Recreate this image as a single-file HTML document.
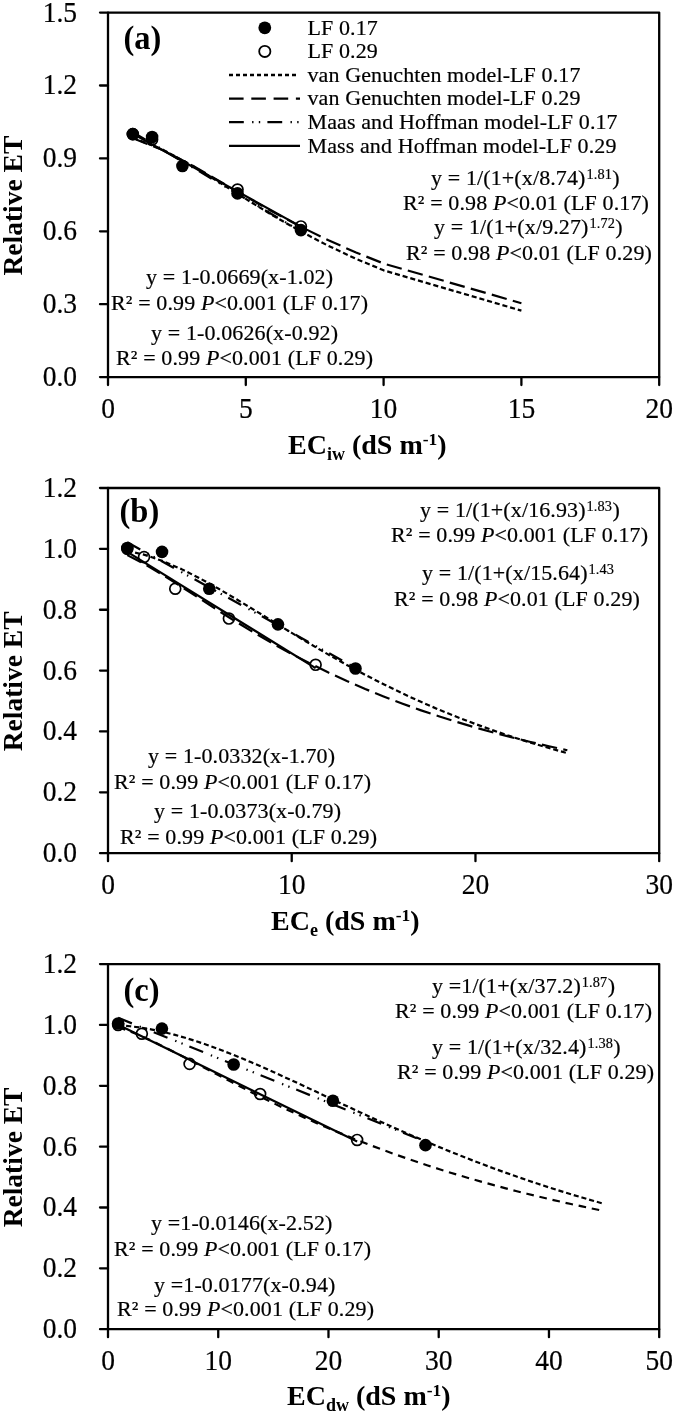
<!DOCTYPE html>
<html><head><meta charset="utf-8"><style>
html,body{margin:0;padding:0;background:#fff;}
body{width:675px;height:1414px;overflow:hidden;}
svg{display:block;will-change:transform;}
</style></head><body>
<svg width="675" height="1414" viewBox="0 0 675 1414">
<rect width="675" height="1414" fill="#fff"/>
<circle cx="132.80" cy="134.10" r="6.3" fill="#000"/>
<circle cx="152.10" cy="137.02" r="6.3" fill="#000"/>
<circle cx="182.41" cy="165.93" r="6.3" fill="#000"/>
<circle cx="237.53" cy="193.39" r="6.3" fill="#000"/>
<circle cx="300.92" cy="230.09" r="6.3" fill="#000"/>
<circle cx="132.80" cy="134.10" r="5.45" fill="none" stroke="#000" stroke-width="1.7"/>
<circle cx="152.10" cy="139.45" r="5.45" fill="none" stroke="#000" stroke-width="1.7"/>
<circle cx="237.53" cy="189.50" r="5.45" fill="none" stroke="#000" stroke-width="1.7"/>
<circle cx="300.92" cy="226.44" r="5.45" fill="none" stroke="#000" stroke-width="1.7"/>
<path d="M132.80,138.00 L135.56,138.81 L163.12,149.85 L190.68,164.75 L218.24,181.60 L245.80,198.94 L273.36,215.77 L300.92,231.51 L328.48,245.89 L356.04,258.82 L383.60,270.34 L521.40,310.67" fill="none" stroke="#000" stroke-width="2.2" stroke-linejoin="round" stroke-dasharray="5.1 2.9"/>
<path d="M132.80,138.42 L135.56,139.26 L163.12,150.32 L190.68,164.62 L218.24,180.43 L245.80,196.54 L273.36,212.15 L300.92,226.81 L328.48,240.29 L356.04,252.51 L383.60,263.51 L521.40,303.20" fill="none" stroke="#000" stroke-width="2.2" stroke-linejoin="round" stroke-dasharray="15.5 6.35"/>
<path d="M132.80,132.15 L300.92,231.32" fill="none" stroke="#000" stroke-width="2.2" stroke-linejoin="round" stroke-dasharray="14.8 8.3 1.4 5.3 1.4 7.2"/>
<path d="M132.80,133.80 L300.92,226.59" fill="none" stroke="#000" stroke-width="2.2" stroke-linejoin="round"/>
<path d="M108.0,12.6 H659.2 V377.1 H108.0 Z" fill="none" stroke="#000" stroke-width="2.3" stroke-linejoin="round"/>
<line x1="100.0" y1="377.10" x2="108.0" y2="377.10" stroke="#000" stroke-width="2.3" stroke-linecap="round"/>
<text transform="translate(77.00,386.00) scale(1,1.05)" text-anchor="end" font-size="27.5" font-family="Liberation Serif" stroke="#000" stroke-width="0.2">0.0</text>
<line x1="100.0" y1="304.20" x2="108.0" y2="304.20" stroke="#000" stroke-width="2.3" stroke-linecap="round"/>
<text transform="translate(77.00,313.10) scale(1,1.05)" text-anchor="end" font-size="27.5" font-family="Liberation Serif" stroke="#000" stroke-width="0.2">0.3</text>
<line x1="100.0" y1="231.30" x2="108.0" y2="231.30" stroke="#000" stroke-width="2.3" stroke-linecap="round"/>
<text transform="translate(77.00,240.20) scale(1,1.05)" text-anchor="end" font-size="27.5" font-family="Liberation Serif" stroke="#000" stroke-width="0.2">0.6</text>
<line x1="100.0" y1="158.40" x2="108.0" y2="158.40" stroke="#000" stroke-width="2.3" stroke-linecap="round"/>
<text transform="translate(77.00,167.30) scale(1,1.05)" text-anchor="end" font-size="27.5" font-family="Liberation Serif" stroke="#000" stroke-width="0.2">0.9</text>
<line x1="100.0" y1="85.50" x2="108.0" y2="85.50" stroke="#000" stroke-width="2.3" stroke-linecap="round"/>
<text transform="translate(77.00,94.40) scale(1,1.05)" text-anchor="end" font-size="27.5" font-family="Liberation Serif" stroke="#000" stroke-width="0.2">1.2</text>
<line x1="100.0" y1="12.60" x2="108.0" y2="12.60" stroke="#000" stroke-width="2.3" stroke-linecap="round"/>
<text transform="translate(77.00,21.50) scale(1,1.05)" text-anchor="end" font-size="27.5" font-family="Liberation Serif" stroke="#000" stroke-width="0.2">1.5</text>
<line x1="108.00" y1="377.1" x2="108.00" y2="385.1" stroke="#000" stroke-width="2.3" stroke-linecap="round"/>
<text transform="translate(108.00,418.10) scale(1,1.05)" text-anchor="middle" font-size="27.5" font-family="Liberation Serif" stroke="#000" stroke-width="0.2">0</text>
<line x1="245.80" y1="377.1" x2="245.80" y2="385.1" stroke="#000" stroke-width="2.3" stroke-linecap="round"/>
<text transform="translate(245.80,418.10) scale(1,1.05)" text-anchor="middle" font-size="27.5" font-family="Liberation Serif" stroke="#000" stroke-width="0.2">5</text>
<line x1="383.60" y1="377.1" x2="383.60" y2="385.1" stroke="#000" stroke-width="2.3" stroke-linecap="round"/>
<text transform="translate(383.60,418.10) scale(1,1.05)" text-anchor="middle" font-size="27.5" font-family="Liberation Serif" stroke="#000" stroke-width="0.2">10</text>
<line x1="521.40" y1="377.1" x2="521.40" y2="385.1" stroke="#000" stroke-width="2.3" stroke-linecap="round"/>
<text transform="translate(521.40,418.10) scale(1,1.05)" text-anchor="middle" font-size="27.5" font-family="Liberation Serif" stroke="#000" stroke-width="0.2">15</text>
<line x1="659.20" y1="377.1" x2="659.20" y2="385.1" stroke="#000" stroke-width="2.3" stroke-linecap="round"/>
<text transform="translate(659.20,418.10) scale(1,1.05)" text-anchor="middle" font-size="27.5" font-family="Liberation Serif" stroke="#000" stroke-width="0.2">20</text>
<text transform="translate(123.50,49.00) scale(1,1.06)" text-anchor="start" font-size="32.5" font-weight="bold" font-family="Liberation Serif">(a)</text>
<text x="431.00" y="184.70" text-anchor="start" font-size="22" font-family="Liberation Serif" letter-spacing="0.12" stroke="#000" stroke-width="0.2">y = 1/(1+(x/8.74)<tspan font-size="14.3" dx="0.9" dy="-6">1.81</tspan><tspan dx="0.3" dy="6">)</tspan></text>
<text x="403.00" y="210.30" text-anchor="start" font-size="22" font-family="Liberation Serif" letter-spacing="0.12" stroke="#000" stroke-width="0.2">R² = 0.98 <tspan font-style="italic">P</tspan>&lt;0.01 (LF 0.17)</text>
<text x="434.00" y="234.00" text-anchor="start" font-size="22" font-family="Liberation Serif" letter-spacing="0.12" stroke="#000" stroke-width="0.2">y = 1/(1+(x/9.27)<tspan font-size="14.3" dx="0.9" dy="-6">1.72</tspan><tspan dx="0.3" dy="6">)</tspan></text>
<text x="406.00" y="260.00" text-anchor="start" font-size="22" font-family="Liberation Serif" letter-spacing="0.12" stroke="#000" stroke-width="0.2">R² = 0.98 <tspan font-style="italic">P</tspan>&lt;0.01 (LF 0.29)</text>
<text x="146.00" y="284.20" text-anchor="start" font-size="22" font-family="Liberation Serif" letter-spacing="0.12" stroke="#000" stroke-width="0.2">y = 1-0.0669(x-1.02)</text>
<text x="111.00" y="310.00" text-anchor="start" font-size="22" font-family="Liberation Serif" letter-spacing="0.12" stroke="#000" stroke-width="0.2">R² = 0.99 <tspan font-style="italic">P</tspan>&lt;0.001 (LF 0.17)</text>
<text x="151.00" y="339.90" text-anchor="start" font-size="22" font-family="Liberation Serif" letter-spacing="0.12" stroke="#000" stroke-width="0.2">y = 1-0.0626(x-0.92)</text>
<text x="116.00" y="365.10" text-anchor="start" font-size="22" font-family="Liberation Serif" letter-spacing="0.12" stroke="#000" stroke-width="0.2">R² = 0.99 <tspan font-style="italic">P</tspan>&lt;0.001 (LF 0.29)</text>
<text x="288.00" y="453.70" text-anchor="start" font-size="28" font-weight="bold" font-family="Liberation Serif">EC<tspan font-size="18" dy="6">iw</tspan><tspan dy="-6"> (dS m</tspan><tspan font-size="17.5" dy="-9">-1</tspan><tspan dy="9">)</tspan></text>
<text transform="translate(21.9,205.65) rotate(-90)" text-anchor="middle" font-size="27.5" font-weight="bold" font-family="Liberation Serif">Relative ET</text>
<circle cx="127.29" cy="547.95" r="6.3" fill="#000"/>
<circle cx="162.02" cy="551.91" r="6.3" fill="#000"/>
<circle cx="209.24" cy="588.73" r="6.3" fill="#000"/>
<circle cx="277.95" cy="624.34" r="6.3" fill="#000"/>
<circle cx="355.49" cy="668.47" r="6.3" fill="#000"/>
<circle cx="127.29" cy="548.87" r="5.45" fill="none" stroke="#000" stroke-width="1.7"/>
<circle cx="144.01" cy="557.08" r="5.45" fill="none" stroke="#000" stroke-width="1.7"/>
<circle cx="175.25" cy="588.73" r="5.45" fill="none" stroke="#000" stroke-width="1.7"/>
<circle cx="228.90" cy="618.56" r="5.45" fill="none" stroke="#000" stroke-width="1.7"/>
<circle cx="315.62" cy="664.82" r="5.45" fill="none" stroke="#000" stroke-width="1.7"/>
<path d="M127.29,550.73 L144.75,554.85 L163.12,561.17 L181.49,569.13 L199.87,578.36 L218.24,588.52 L236.61,599.30 L254.99,610.44 L273.36,621.71 L291.73,632.92 L310.11,643.93 L328.48,654.64 L346.85,664.96 L365.23,674.84 L383.60,684.25 L401.97,693.17 L420.35,701.61 L438.72,709.56 L457.09,717.03 L475.47,724.06 L493.84,730.65 L512.21,736.82 L530.59,742.61 L548.96,748.03 L567.33,753.11" fill="none" stroke="#000" stroke-width="2.2" stroke-linejoin="round" stroke-dasharray="5.1 2.9"/>
<path d="M127.29,555.13 L144.75,564.13 L163.12,575.09 L181.49,586.78 L199.87,598.69 L218.24,610.53 L236.61,622.08 L254.99,633.21 L273.36,643.86 L291.73,653.97 L310.11,663.53 L328.48,672.55 L346.85,681.03 L365.23,689.01 L383.60,696.49 L401.97,703.51 L420.35,710.09 L438.72,716.27 L457.09,722.07 L475.47,727.51 L493.84,732.63 L512.21,737.44 L530.59,741.96 L548.96,746.22 L567.33,750.23" fill="none" stroke="#000" stroke-width="2.2" stroke-linejoin="round" stroke-dasharray="15.5 6.35"/>
<path d="M127.29,542.30 L355.49,667.79" fill="none" stroke="#000" stroke-width="2.2" stroke-linejoin="round" stroke-dasharray="14.8 8.3 1.4 5.3 1.4 7.2"/>
<path d="M127.29,551.82 L315.62,668.17" fill="none" stroke="#000" stroke-width="2.2" stroke-linejoin="round"/>
<path d="M108.0,488 H659.2 V853.2 H108.0 Z" fill="none" stroke="#000" stroke-width="2.3" stroke-linejoin="round"/>
<line x1="100.0" y1="853.20" x2="108.0" y2="853.20" stroke="#000" stroke-width="2.3" stroke-linecap="round"/>
<text transform="translate(77.00,862.10) scale(1,1.05)" text-anchor="end" font-size="27.5" font-family="Liberation Serif" stroke="#000" stroke-width="0.2">0.0</text>
<line x1="100.0" y1="792.33" x2="108.0" y2="792.33" stroke="#000" stroke-width="2.3" stroke-linecap="round"/>
<text transform="translate(77.00,801.23) scale(1,1.05)" text-anchor="end" font-size="27.5" font-family="Liberation Serif" stroke="#000" stroke-width="0.2">0.2</text>
<line x1="100.0" y1="731.47" x2="108.0" y2="731.47" stroke="#000" stroke-width="2.3" stroke-linecap="round"/>
<text transform="translate(77.00,740.37) scale(1,1.05)" text-anchor="end" font-size="27.5" font-family="Liberation Serif" stroke="#000" stroke-width="0.2">0.4</text>
<line x1="100.0" y1="670.60" x2="108.0" y2="670.60" stroke="#000" stroke-width="2.3" stroke-linecap="round"/>
<text transform="translate(77.00,679.50) scale(1,1.05)" text-anchor="end" font-size="27.5" font-family="Liberation Serif" stroke="#000" stroke-width="0.2">0.6</text>
<line x1="100.0" y1="609.73" x2="108.0" y2="609.73" stroke="#000" stroke-width="2.3" stroke-linecap="round"/>
<text transform="translate(77.00,618.63) scale(1,1.05)" text-anchor="end" font-size="27.5" font-family="Liberation Serif" stroke="#000" stroke-width="0.2">0.8</text>
<line x1="100.0" y1="548.87" x2="108.0" y2="548.87" stroke="#000" stroke-width="2.3" stroke-linecap="round"/>
<text transform="translate(77.00,557.77) scale(1,1.05)" text-anchor="end" font-size="27.5" font-family="Liberation Serif" stroke="#000" stroke-width="0.2">1.0</text>
<line x1="100.0" y1="488.00" x2="108.0" y2="488.00" stroke="#000" stroke-width="2.3" stroke-linecap="round"/>
<text transform="translate(77.00,496.90) scale(1,1.05)" text-anchor="end" font-size="27.5" font-family="Liberation Serif" stroke="#000" stroke-width="0.2">1.2</text>
<line x1="108.00" y1="853.2" x2="108.00" y2="861.2" stroke="#000" stroke-width="2.3" stroke-linecap="round"/>
<text transform="translate(108.00,894.20) scale(1,1.05)" text-anchor="middle" font-size="27.5" font-family="Liberation Serif" stroke="#000" stroke-width="0.2">0</text>
<line x1="291.73" y1="853.2" x2="291.73" y2="861.2" stroke="#000" stroke-width="2.3" stroke-linecap="round"/>
<text transform="translate(291.73,894.20) scale(1,1.05)" text-anchor="middle" font-size="27.5" font-family="Liberation Serif" stroke="#000" stroke-width="0.2">10</text>
<line x1="475.47" y1="853.2" x2="475.47" y2="861.2" stroke="#000" stroke-width="2.3" stroke-linecap="round"/>
<text transform="translate(475.47,894.20) scale(1,1.05)" text-anchor="middle" font-size="27.5" font-family="Liberation Serif" stroke="#000" stroke-width="0.2">20</text>
<line x1="659.20" y1="853.2" x2="659.20" y2="861.2" stroke="#000" stroke-width="2.3" stroke-linecap="round"/>
<text transform="translate(659.20,894.20) scale(1,1.05)" text-anchor="middle" font-size="27.5" font-family="Liberation Serif" stroke="#000" stroke-width="0.2">30</text>
<text transform="translate(119.50,521.70) scale(1,1.06)" text-anchor="start" font-size="32.5" font-weight="bold" font-family="Liberation Serif">(b)</text>
<text x="420.00" y="516.70" text-anchor="start" font-size="22" font-family="Liberation Serif" letter-spacing="0.12" stroke="#000" stroke-width="0.2">y = 1/(1+(x/16.93)<tspan font-size="14.3" dx="0.9" dy="-6">1.83</tspan><tspan dx="0.3" dy="6">)</tspan></text>
<text x="391.00" y="541.60" text-anchor="start" font-size="22" font-family="Liberation Serif" letter-spacing="0.12" stroke="#000" stroke-width="0.2">R² = 0.99 <tspan font-style="italic">P</tspan>&lt;0.001 (LF 0.17)</text>
<text x="422.00" y="579.50" text-anchor="start" font-size="22" font-family="Liberation Serif" letter-spacing="0.12" stroke="#000" stroke-width="0.2">y = 1/(1+(x/15.64)<tspan font-size="14.3" dx="0.9" dy="-6">1.43</tspan></text>
<text x="394.00" y="605.60" text-anchor="start" font-size="22" font-family="Liberation Serif" letter-spacing="0.12" stroke="#000" stroke-width="0.2">R² = 0.98 <tspan font-style="italic">P</tspan>&lt;0.01 (LF 0.29)</text>
<text x="148.00" y="762.50" text-anchor="start" font-size="22" font-family="Liberation Serif" letter-spacing="0.12" stroke="#000" stroke-width="0.2">y = 1-0.0332(x-1.70)</text>
<text x="114.00" y="788.60" text-anchor="start" font-size="22" font-family="Liberation Serif" letter-spacing="0.12" stroke="#000" stroke-width="0.2">R² = 0.99 <tspan font-style="italic">P</tspan>&lt;0.001 (LF 0.17)</text>
<text x="154.00" y="818.20" text-anchor="start" font-size="22" font-family="Liberation Serif" letter-spacing="0.12" stroke="#000" stroke-width="0.2">y = 1-0.0373(x-0.79)</text>
<text x="120.00" y="844.30" text-anchor="start" font-size="22" font-family="Liberation Serif" letter-spacing="0.12" stroke="#000" stroke-width="0.2">R² = 0.99 <tspan font-style="italic">P</tspan>&lt;0.001 (LF 0.29)</text>
<text x="271.00" y="929.70" text-anchor="start" font-size="28" font-weight="bold" font-family="Liberation Serif">EC<tspan font-size="18" dy="6">e</tspan><tspan dy="-6"> (dS m</tspan><tspan font-size="17.5" dy="-9">-1</tspan><tspan dy="9">)</tspan></text>
<text transform="translate(21.9,681.40) rotate(-90)" text-anchor="middle" font-size="27.5" font-weight="bold" font-family="Liberation Serif">Relative ET</text>
<circle cx="118.14" cy="1023.43" r="6.3" fill="#000"/>
<circle cx="161.91" cy="1028.60" r="6.3" fill="#000"/>
<circle cx="233.67" cy="1064.50" r="6.3" fill="#000"/>
<circle cx="332.89" cy="1100.71" r="6.3" fill="#000"/>
<circle cx="425.49" cy="1145.13" r="6.3" fill="#000"/>
<circle cx="118.14" cy="1024.95" r="5.45" fill="none" stroke="#000" stroke-width="1.7"/>
<circle cx="141.84" cy="1033.77" r="5.45" fill="none" stroke="#000" stroke-width="1.7"/>
<circle cx="189.58" cy="1063.89" r="5.45" fill="none" stroke="#000" stroke-width="1.7"/>
<circle cx="260.13" cy="1094.01" r="5.45" fill="none" stroke="#000" stroke-width="1.7"/>
<circle cx="357.14" cy="1139.96" r="5.45" fill="none" stroke="#000" stroke-width="1.7"/>
<path d="M118.14,1025.25 L119.02,1025.30 L130.05,1026.23 L141.07,1027.67 L152.10,1029.58 L163.12,1031.92 L174.14,1034.66 L185.17,1037.77 L196.19,1041.21 L207.22,1044.96 L218.24,1048.97 L229.26,1053.22 L240.29,1057.68 L251.31,1062.32 L262.34,1067.10 L273.36,1072.01 L284.38,1077.01 L295.41,1082.09 L306.43,1087.21 L317.46,1092.37 L328.48,1097.54 L339.50,1102.70 L350.53,1107.84 L361.55,1112.95 L372.58,1118.01 L383.60,1123.01 L394.62,1127.95 L405.65,1132.81 L416.67,1137.59 L427.70,1142.28 L438.72,1146.88 L449.74,1151.39 L460.77,1155.80 L471.79,1160.11 L482.82,1164.31 L493.84,1168.41 L504.86,1172.41 L515.89,1176.31 L526.91,1180.10 L537.94,1183.79 L548.96,1187.38 L559.98,1190.87 L571.01,1194.26 L582.03,1197.56 L593.06,1200.76 L604.08,1203.87" fill="none" stroke="#000" stroke-width="2.2" stroke-linejoin="round" stroke-dasharray="5.1 2.9"/>
<path d="M118.14,1027.17 L119.02,1027.43 L130.05,1031.33 L141.07,1035.94 L152.10,1041.02 L163.12,1046.40 L174.14,1052.00 L185.17,1057.72 L196.19,1063.51 L207.22,1069.32 L218.24,1075.12 L229.26,1080.87 L240.29,1086.56 L251.31,1092.17 L262.34,1097.68 L273.36,1103.08 L284.38,1108.36 L295.41,1113.52 L306.43,1118.55 L317.46,1123.45 L328.48,1128.23 L339.50,1132.87 L350.53,1137.38 L361.55,1141.76 L372.58,1146.02 L383.60,1150.15 L394.62,1154.15 L405.65,1158.04 L416.67,1161.81 L427.70,1165.46 L438.72,1169.00 L449.74,1172.44 L460.77,1175.77 L471.79,1179.00 L482.82,1182.13 L493.84,1185.17 L504.86,1188.11 L515.89,1190.97 L526.91,1193.74 L537.94,1196.43 L548.96,1199.04 L559.98,1201.57 L571.01,1204.03 L582.03,1206.41 L593.06,1208.73 L604.08,1210.98" fill="none" stroke="#000" stroke-width="2.2" stroke-linejoin="round" stroke-dasharray="7.6 5.8"/>
<path d="M118.14,1017.84 L425.49,1141.69" fill="none" stroke="#000" stroke-width="2.2" stroke-linejoin="round" stroke-dasharray="14.8 8.3 1.4 5.3 1.4 7.2"/>
<path d="M118.14,1024.84 L357.14,1141.59" fill="none" stroke="#000" stroke-width="2.2" stroke-linejoin="round"/>
<path d="M108.0,964.1 H659.2 V1329.2 H108.0 Z" fill="none" stroke="#000" stroke-width="2.3" stroke-linejoin="round"/>
<line x1="100.0" y1="1329.20" x2="108.0" y2="1329.20" stroke="#000" stroke-width="2.3" stroke-linecap="round"/>
<text transform="translate(77.00,1338.10) scale(1,1.05)" text-anchor="end" font-size="27.5" font-family="Liberation Serif" stroke="#000" stroke-width="0.2">0.0</text>
<line x1="100.0" y1="1268.35" x2="108.0" y2="1268.35" stroke="#000" stroke-width="2.3" stroke-linecap="round"/>
<text transform="translate(77.00,1277.25) scale(1,1.05)" text-anchor="end" font-size="27.5" font-family="Liberation Serif" stroke="#000" stroke-width="0.2">0.2</text>
<line x1="100.0" y1="1207.50" x2="108.0" y2="1207.50" stroke="#000" stroke-width="2.3" stroke-linecap="round"/>
<text transform="translate(77.00,1216.40) scale(1,1.05)" text-anchor="end" font-size="27.5" font-family="Liberation Serif" stroke="#000" stroke-width="0.2">0.4</text>
<line x1="100.0" y1="1146.65" x2="108.0" y2="1146.65" stroke="#000" stroke-width="2.3" stroke-linecap="round"/>
<text transform="translate(77.00,1155.55) scale(1,1.05)" text-anchor="end" font-size="27.5" font-family="Liberation Serif" stroke="#000" stroke-width="0.2">0.6</text>
<line x1="100.0" y1="1085.80" x2="108.0" y2="1085.80" stroke="#000" stroke-width="2.3" stroke-linecap="round"/>
<text transform="translate(77.00,1094.70) scale(1,1.05)" text-anchor="end" font-size="27.5" font-family="Liberation Serif" stroke="#000" stroke-width="0.2">0.8</text>
<line x1="100.0" y1="1024.95" x2="108.0" y2="1024.95" stroke="#000" stroke-width="2.3" stroke-linecap="round"/>
<text transform="translate(77.00,1033.85) scale(1,1.05)" text-anchor="end" font-size="27.5" font-family="Liberation Serif" stroke="#000" stroke-width="0.2">1.0</text>
<line x1="100.0" y1="964.10" x2="108.0" y2="964.10" stroke="#000" stroke-width="2.3" stroke-linecap="round"/>
<text transform="translate(77.00,973.00) scale(1,1.05)" text-anchor="end" font-size="27.5" font-family="Liberation Serif" stroke="#000" stroke-width="0.2">1.2</text>
<line x1="108.00" y1="1329.2" x2="108.00" y2="1337.2" stroke="#000" stroke-width="2.3" stroke-linecap="round"/>
<text transform="translate(108.00,1370.20) scale(1,1.05)" text-anchor="middle" font-size="27.5" font-family="Liberation Serif" stroke="#000" stroke-width="0.2">0</text>
<line x1="218.24" y1="1329.2" x2="218.24" y2="1337.2" stroke="#000" stroke-width="2.3" stroke-linecap="round"/>
<text transform="translate(218.24,1370.20) scale(1,1.05)" text-anchor="middle" font-size="27.5" font-family="Liberation Serif" stroke="#000" stroke-width="0.2">10</text>
<line x1="328.48" y1="1329.2" x2="328.48" y2="1337.2" stroke="#000" stroke-width="2.3" stroke-linecap="round"/>
<text transform="translate(328.48,1370.20) scale(1,1.05)" text-anchor="middle" font-size="27.5" font-family="Liberation Serif" stroke="#000" stroke-width="0.2">20</text>
<line x1="438.72" y1="1329.2" x2="438.72" y2="1337.2" stroke="#000" stroke-width="2.3" stroke-linecap="round"/>
<text transform="translate(438.72,1370.20) scale(1,1.05)" text-anchor="middle" font-size="27.5" font-family="Liberation Serif" stroke="#000" stroke-width="0.2">30</text>
<line x1="548.96" y1="1329.2" x2="548.96" y2="1337.2" stroke="#000" stroke-width="2.3" stroke-linecap="round"/>
<text transform="translate(548.96,1370.20) scale(1,1.05)" text-anchor="middle" font-size="27.5" font-family="Liberation Serif" stroke="#000" stroke-width="0.2">40</text>
<line x1="659.20" y1="1329.2" x2="659.20" y2="1337.2" stroke="#000" stroke-width="2.3" stroke-linecap="round"/>
<text transform="translate(659.20,1370.20) scale(1,1.05)" text-anchor="middle" font-size="27.5" font-family="Liberation Serif" stroke="#000" stroke-width="0.2">50</text>
<text transform="translate(123.50,1000.50) scale(1,1.06)" text-anchor="start" font-size="32.5" font-weight="bold" font-family="Liberation Serif">(c)</text>
<text x="432.00" y="993.00" text-anchor="start" font-size="22" font-family="Liberation Serif" letter-spacing="0.12" stroke="#000" stroke-width="0.2">y =1/(1+(x/37.2)<tspan font-size="14.3" dx="0.9" dy="-6">1.87</tspan><tspan dx="0.3" dy="6">)</tspan></text>
<text x="395.00" y="1017.60" text-anchor="start" font-size="22" font-family="Liberation Serif" letter-spacing="0.12" stroke="#000" stroke-width="0.2">R² = 0.99 <tspan font-style="italic">P</tspan>&lt;0.001 (LF 0.17)</text>
<text x="432.00" y="1053.50" text-anchor="start" font-size="22" font-family="Liberation Serif" letter-spacing="0.12" stroke="#000" stroke-width="0.2">y = 1/(1+(x/32.4)<tspan font-size="14.3" dx="0.9" dy="-6">1.38</tspan><tspan dx="0.3" dy="6">)</tspan></text>
<text x="397.00" y="1079.00" text-anchor="start" font-size="22" font-family="Liberation Serif" letter-spacing="0.12" stroke="#000" stroke-width="0.2">R² = 0.99 <tspan font-style="italic">P</tspan>&lt;0.001 (LF 0.29)</text>
<text x="151.00" y="1230.10" text-anchor="start" font-size="22" font-family="Liberation Serif" letter-spacing="0.12" stroke="#000" stroke-width="0.2">y =1-0.0146(x-2.52)</text>
<text x="114.00" y="1255.60" text-anchor="start" font-size="22" font-family="Liberation Serif" letter-spacing="0.12" stroke="#000" stroke-width="0.2">R² = 0.99 <tspan font-style="italic">P</tspan>&lt;0.001 (LF 0.17)</text>
<text x="154.00" y="1291.80" text-anchor="start" font-size="22" font-family="Liberation Serif" letter-spacing="0.12" stroke="#000" stroke-width="0.2">y =1-0.0177(x-0.94)</text>
<text x="117.00" y="1316.10" text-anchor="start" font-size="22" font-family="Liberation Serif" letter-spacing="0.12" stroke="#000" stroke-width="0.2">R² = 0.99 <tspan font-style="italic">P</tspan>&lt;0.001 (LF 0.29)</text>
<text x="287.00" y="1405.40" text-anchor="start" font-size="28" font-weight="bold" font-family="Liberation Serif">EC<tspan font-size="18" dy="6">dw</tspan><tspan dy="-6"> (dS m</tspan><tspan font-size="17.5" dy="-9">-1</tspan><tspan dy="9">)</tspan></text>
<text transform="translate(21.9,1157.45) rotate(-90)" text-anchor="middle" font-size="27.5" font-weight="bold" font-family="Liberation Serif">Relative ET</text>
<circle cx="264.8" cy="27.8" r="6.4" fill="#000"/>
<circle cx="264.8" cy="51.4" r="5.6" fill="#fff" stroke="#000" stroke-width="1.8"/>
<line x1="229" y1="75.0" x2="298.5" y2="75.0" stroke="#000" stroke-width="2.3" stroke-dasharray="4 3"/>
<line x1="229" y1="98.6" x2="300" y2="98.6" stroke="#000" stroke-width="2.3" stroke-dasharray="14.6 7.7"/>
<line x1="229" y1="122.2" x2="300" y2="122.2" stroke="#000" stroke-width="2.3" stroke-dasharray="14.8 8.3 1.4 5.3 1.4 7.2"/>
<line x1="229" y1="145.8" x2="300" y2="145.8" stroke="#000" stroke-width="2.3"/>
<text x="307.50" y="34.60" text-anchor="start" font-size="22" font-family="Liberation Serif" letter-spacing="0.11" stroke="#000" stroke-width="0.2">LF 0.17</text>
<text x="307.50" y="58.20" text-anchor="start" font-size="22" font-family="Liberation Serif" letter-spacing="0.11" stroke="#000" stroke-width="0.2">LF 0.29</text>
<text x="307.50" y="81.80" text-anchor="start" font-size="22" font-family="Liberation Serif" letter-spacing="0.11" stroke="#000" stroke-width="0.2">van Genuchten model-LF 0.17</text>
<text x="307.50" y="105.40" text-anchor="start" font-size="22" font-family="Liberation Serif" letter-spacing="0.11" stroke="#000" stroke-width="0.2">van Genuchten model-LF 0.29</text>
<text x="307.50" y="129.00" text-anchor="start" font-size="22" font-family="Liberation Serif" letter-spacing="0.11" stroke="#000" stroke-width="0.2">Maas and Hoffman model-LF 0.17</text>
<text x="307.50" y="152.60" text-anchor="start" font-size="22" font-family="Liberation Serif" letter-spacing="0.11" stroke="#000" stroke-width="0.2">Mass and Hoffman model-LF 0.29</text>
</svg>
</body></html>
